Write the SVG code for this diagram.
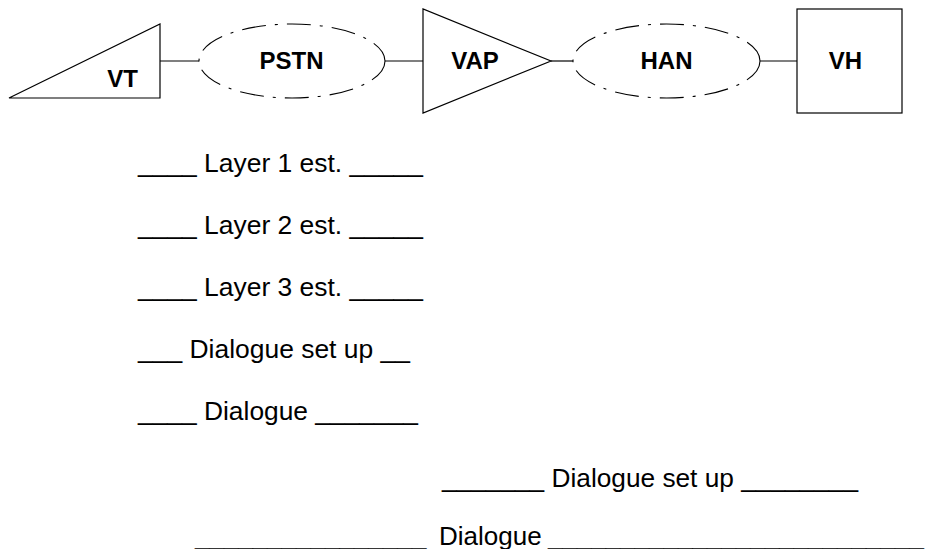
<svg xmlns="http://www.w3.org/2000/svg" width="927" height="549" viewBox="0 0 927 549">
<style>
.shape{fill:#fff;stroke:#000;stroke-width:1.2}
.cloud{fill:#fff;stroke:#000;stroke-width:1.1;stroke-dasharray:24 9 3 9}
.lbl{font-family:"Liberation Sans",Arial,sans-serif;font-weight:bold;font-size:24px;fill:#000;text-anchor:middle}
.msg{font-family:"Liberation Sans",Arial,sans-serif;font-size:26px;fill:#000}
.conn{stroke:#000;stroke-width:1.2;fill:none}
</style>
<rect width="927" height="549" fill="#fff"/>
<g id="connectors">
<line class="conn" x1="160" y1="61" x2="199" y2="61"/>
<line class="conn" x1="385" y1="61" x2="423" y2="61"/>
<line class="conn" x1="551" y1="61" x2="573" y2="61"/>
<line class="conn" x1="760" y1="61" x2="797" y2="61"/>
</g>
<g id="VT">
<polygon class="shape" points="9,98 160,24 160,98"/>
<text class="lbl" x="122.5" y="87">VT</text>
</g>
<g id="PSTN">
<ellipse class="cloud" cx="292" cy="61" rx="93" ry="37"/>
<text class="lbl" x="291.5" y="69">PSTN</text>
</g>
<g id="VAP">
<polygon class="shape" points="423,9 423,113 551,61"/>
<text class="lbl" x="475" y="69">VAP</text>
</g>
<g id="HAN">
<ellipse class="cloud" cx="666.5" cy="61" rx="93.5" ry="37"/>
<text class="lbl" x="666.5" y="69">HAN</text>
</g>
<g id="VH">
<rect class="shape" x="797" y="9" width="105" height="104"/>
<text class="lbl" x="845.5" y="69">VH</text>
</g>
<g id="messages">
<text class="msg" x="138" y="172" textLength="285" lengthAdjust="spacingAndGlyphs">____ Layer 1 est. _____</text>
<text class="msg" x="138" y="234" textLength="285" lengthAdjust="spacingAndGlyphs">____ Layer 2 est. _____</text>
<text class="msg" x="138" y="296" textLength="285" lengthAdjust="spacingAndGlyphs">____ Layer 3 est. _____</text>
<text class="msg" x="138" y="358" textLength="272" lengthAdjust="spacingAndGlyphs">___ Dialogue set up __</text>
<text class="msg" x="138" y="420" textLength="280" lengthAdjust="spacingAndGlyphs">____ Dialogue _______</text>
<text class="msg" x="442" y="487" font-size="27" textLength="416" lengthAdjust="spacingAndGlyphs">_______ Dialogue set up ________</text>
<text class="msg" y="545"><tspan x="195">________________</tspan><tspan x="439">Dialogue</tspan><tspan x="548">__________________________</tspan></text>
</g>
</svg>
